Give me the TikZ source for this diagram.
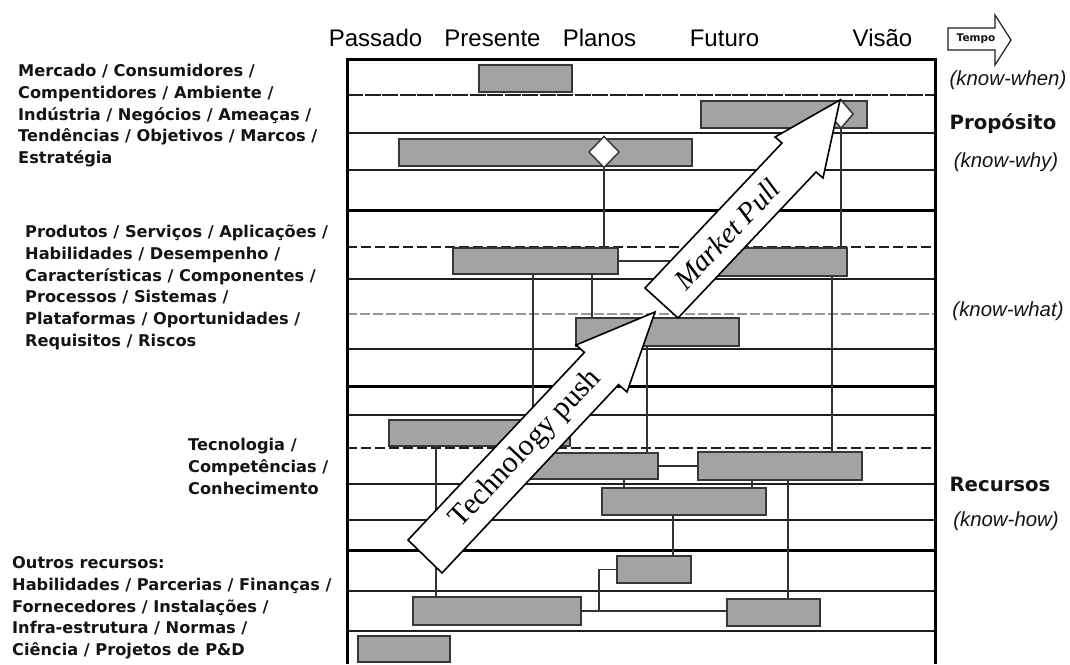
\documentclass[tikz,border=0pt]{standalone}
\usepackage{fontspec}
\setmainfont{Liberation Sans}
\newfontfamily\widesans{DejaVu Sans}
\newfontfamily\arrowserif{Liberation Serif}
\usetikzlibrary{shapes.geometric}

\definecolor{barfill}{RGB}{163,163,163}
\definecolor{barline}{RGB}{55,55,55}
\definecolor{connc}{RGB}{50,50,50}
\definecolor{gridc}{RGB}{30,30,30}
\definecolor{softgrid}{RGB}{150,150,150}
\definecolor{labelc}{RGB}{20,20,20}

\tikzset{
  bar/.style={rectangle, draw=barline, fill=barfill, line width=1.4pt, inner sep=0pt, outer sep=0pt},
  conn/.style={draw=connc, line width=1.3pt},
  rowline/.style={draw=gridc, line width=1.2pt},
  heavyline/.style={draw=black, line width=3pt},
  dashrow/.style={rowline, dash pattern=on 10pt off 4pt},
  finedash/.style={rowline, dash pattern=on 16pt off 1.5pt},
  softdash/.style={draw=softgrid, line width=1.6pt, dash pattern=on 10pt off 3pt},
  milestone/.style={diamond, draw=barline, fill=white, line width=1.4pt, inner sep=0pt, outer sep=0pt},
  blockarrow/.style={draw=black, fill=white, line width=1.6pt, line join=miter},
  hdr/.style={font=\fontsize{24}{28}\selectfont, anchor=base, inner sep=0pt},
  leftlbl/.style={font=\widesans\bfseries\fontsize{16.2}{21.75}\selectfont, align=left, anchor=north west, inner sep=0pt, text=labelc},
  sidebold/.style={font=\widesans\bfseries\fontsize{19.7}{24}\selectfont, inner sep=0pt, text=labelc},
  sideital/.style={font=\itshape\fontsize{20.4}{24}\selectfont, inner sep=0pt, text=labelc},
  arrowtext/.style={font=\arrowserif\fontsize{30}{32}\selectfont, inner sep=0pt},
}

% one gray bar of the roadmap: name, left, top, right, bottom (pixels, y downwards)
\newcommand{\roadbar}[5]{%
  \node[bar, minimum width={#4-#2}, minimum height={#5-#3}] (#1) at ({(#2+#4)/2},{(#3+#5)/2}) {};}

\begin{document}
\begin{tikzpicture}[x=1pt, y=-1pt]
\useasboundingbox (0,0) rectangle (1070,664);

% ---- grid of layers ----
\foreach \yy in {133,170,279,349,415,484,520,591,631}
  \draw[rowline] (347,\yy) -- (935,\yy);
\draw[finedash] (347,95) -- (935,95);
\draw[dashrow] (347,247) -- (935,247);
\draw[dashrow] (347,448) -- (935,448);
\draw[softdash] (347,314) -- (935,314);
\foreach \yy in {59,210,386,550}
  \draw[heavyline] (345.5,\yy) -- (936.5,\yy);
\draw[heavyline] (347,59) -- (347,664);
\draw[heavyline] (935,59) -- (935,664);

% ---- bars ----
\roadbar{b1}{479}{65}{572}{92}
\roadbar{b2}{701}{101}{867}{128}
\roadbar{b3}{399}{139}{692}{166}
\roadbar{b4}{453}{248}{618}{274}
\roadbar{b5}{700}{248}{847}{276}
\roadbar{b6}{576}{318}{739}{346}
\roadbar{b7}{389}{420}{570}{446}
\roadbar{b8}{520}{453}{658}{479}
\roadbar{b9}{698}{452}{862}{480}
\roadbar{b10}{602}{488}{766}{515}
\roadbar{b11}{617}{556}{691}{583}
\roadbar{b12}{413}{597}{581}{625}
\roadbar{b13}{727}{599}{820}{626}
\roadbar{b14}{358}{636}{450}{662}

% ---- milestones ----
\node[milestone, minimum width=30pt, minimum height=31pt] (d1) at (604,152) {};
\node[milestone, minimum width=24pt, minimum height=28pt] (d2) at (841,114) {};

% ---- links between bars ----
\coordinate (v3) at ([xshift=80pt]b4.south west);
\coordinate (v4) at ([xshift=139pt]b4.south west);
\coordinate (v5) at ([xshift=71pt]b6.south west);
\coordinate (v6) at ([xshift=-15pt]b5.south east);
\coordinate (v7) at ([xshift=104pt]b8.south west);
\coordinate (v8) at ([xshift=54pt]b9.south west);
\coordinate (v9) at ([xshift=71pt]b10.south west);
\coordinate (v10) at ([xshift=47pt]b7.south west);
\coordinate (v11) at ([xshift=90pt]b9.south west);
\coordinate (v12) at ([xshift=18pt]b12.east);
\draw[conn] (d1.south) -- (d1.south |- b4.north);
\draw[conn] (d2.south) -- (d2.south |- b5.north);
\draw[conn] (b4.east) -- (b4.east -| b5.west);
\draw[conn] (v3) -- (v3 |- b8.north);
\draw[conn] (v4) -- (v4 |- b6.north);
\draw[conn] (v5) -- (v5 |- b8.north);
\draw[conn] (v6) -- (v6 |- b9.north);
\draw[conn] (b8.east) -- (b8.east -| b9.west);
\draw[conn] (v7) -- (v7 |- b10.north);
\draw[conn] (v8) -- (v8 |- b10.north);
\draw[conn] (v9) -- (v9 |- b11.north);
\draw[conn] (v10) -- (v10 |- b12.north);
\draw[conn] (v11) -- (v11 |- b13.north);
\draw[conn] (b12.east) -- (b12.east -| b13.west);
\draw[conn] (v12) |- (b11.west);

% bars again on top of their links
\foreach \b in {b3,b4,b5,b6,b7,b8,b9,b10,b11,b12,b13}
  \draw[draw=barline, fill=barfill, line width=1.4pt] (\b.north west) rectangle (\b.south east);
\node[milestone, minimum width=30pt, minimum height=31pt] at (d1) {};
\node[milestone, minimum width=24pt, minimum height=28pt] at (d2) {};

% ---- block arrows ----
\draw[blockarrow] (408,540) -- (584.4,352.4) -- (576,345) -- (655,312)
  -- (627,392) -- (618.6,384.6) -- (442,573) -- cycle;
\node[arrowtext, rotate=46.75] (tp) at (526,449) {Technology push};

\draw[blockarrow] (645,288) -- (782,143) -- (775,137) -- (840,100)
  -- (823,178) -- (816,172) -- (678,318) -- cycle;
\node[arrowtext, rotate=46.6, font=\arrowserif\itshape\fontsize{29}{31}\selectfont] (mp) at (727,234) {Market Pull};

% ---- time axis ----
\node[hdr] (passado) at (375.5,46) {Passado};
\node[hdr] (presente) at (492.5,46) {Presente};
\node[hdr] (planos) at (599.5,46) {Planos};
\node[hdr] (futuro) at (724.5,46) {Futuro};
\node[hdr] (visao) at (882.5,46) {Visão};

\draw[draw=gridc, line width=1.2pt, fill=white, line join=miter]
  (948,28) -- (995,28) -- (995,15) -- (1011,40) -- (995,65) -- (995,50) -- (948,50) -- cycle;
\node[font=\widesans\bfseries\fontsize{10.5}{12}\selectfont, inner sep=0pt, text=labelc] (tempo) at (976,39) {Tempo};

% ---- layer descriptions ----
\node[leftlbl] (mercado) at (18,62.5) {\rule{0pt}{14pt}Mercado / Consumidores /\\Compentidores / Ambiente /\\Indústria / Negócios / Ameaças /\\Tendências / Objetivos / Marcos /\\Estratégia};
\node[leftlbl] (produtos) at (25,223.5) {\rule{0pt}{14pt}Produtos / Serviços / Aplicações /\\Habilidades / Desempenho /\\Características / Componentes /\\Processos / Sistemas /\\Plataformas / Oportunidades /\\Requisitos / Riscos};
\node[leftlbl] (tecnologia) at (188,436.5) {\rule{0pt}{14pt}Tecnologia /\\Competências /\\Conhecimento};
\node[leftlbl] (outros) at (12,554.5) {\rule{0pt}{14pt}Outros recursos:\\Habilidades / Parcerias / Finanças /\\Fornecedores / Instalações /\\Infra-estrutura / Normas /\\Ciência / Projetos de P\&D};

% ---- right-hand labels ----
\node[sideital] (when) at (1008,80) {(know-when)};
\node[sidebold] (proposito) at (1003,124) {Propósito};
\node[sideital] (why) at (1006,162) {(know-why)};
\node[sideital] (what) at (1008,311) {(know-what)};
\node[sidebold] (recursos) at (1000,484) {Recursos};
\node[sideital] (how) at (1006,521) {(know-how)};
\end{tikzpicture}
\end{document}
